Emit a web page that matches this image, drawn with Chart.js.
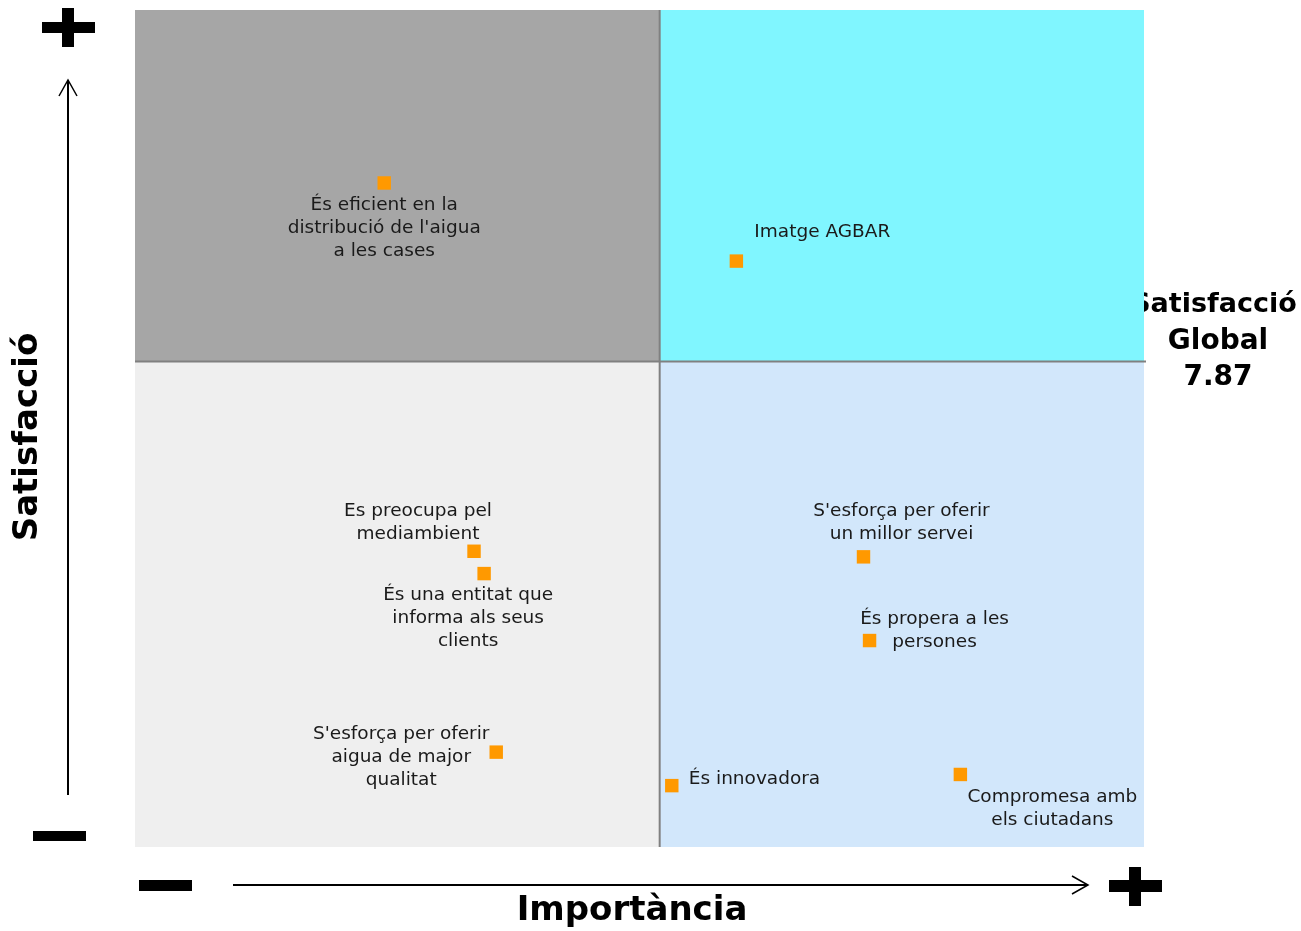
<!DOCTYPE html>
<html>
<head>
<meta charset="utf-8">
<script src="https://cdn.jsdelivr.net/npm/chart.js@4"></script>
<style>
html,body{margin:0;padding:0;background:#fff;overflow:hidden;}
canvas{display:block;}
</style>
</head>
<body>
<canvas id="c" width="1301" height="931"></canvas>
<script>
// ---- data ----
const labels = [
  ["És eficient en la", "distribució de l'aigua", "a les cases"],
  ["Imatge AGBAR"],
  ["Es preocupa pel", "mediambient"],
  ["És una entitat que", "informa als seus", "clients"],
  ["S'esforça per oferir", "aigua de major", "qualitat"],
  ["És innovadora"],
  ["Compromesa amb", "els ciutadans"],
  ["S'esforça per oferir", "un millor servei"],
  ["És propera a les", "persones"]
];
const importancia  = [2.47, 5.96, 3.36, 3.46, 3.58, 5.32, 8.18, 7.22, 7.28];
const satisfaccio  = [8.19, 8.05, 7.53, 7.49, 7.17, 7.11, 7.13, 7.52, 7.37];
const satisfaccioGlobal = 7.87;
const importanciaMitjana = 5.2;
const xRange = [0, 10];
const yRange = [7.0, 8.5];

// label placement (pixel offsets of text block centre from the point, alignment)
const labelPlacement = [
  {dx: 0,   dy: 45,  align: 'center'},
  {dx: 18,  dy: -29, align: 'left'},
  {dx: -56, dy: -29, align: 'center'},
  {dx: -16, dy: 45,  align: 'center'},
  {dx: -95, dy: 5,   align: 'center'},
  {dx: 17,  dy: -6,  align: 'left'},
  {dx: 92,  dy: 34,  align: 'center'},
  {dx: 38,  dy: -34, align: 'center'},
  {dx: 65,  dy: -10, align: 'center'}
];

const FONT = '"DejaVu Sans", sans-serif';

const points = importancia.map((v, i) => ({x: v, y: satisfaccio[i]}));

function line(ctx, x1, y1, x2, y2, w, col) {
  ctx.beginPath(); ctx.lineWidth = w; ctx.strokeStyle = col;
  ctx.moveTo(x1, y1); ctx.lineTo(x2, y2); ctx.stroke();
}

const quadPlugin = {
  id: 'quadrants',
  beforeDraw(chart) {
    const {ctx, chartArea: a, scales: {x, y}} = chart;
    ctx.save();
    // Satisfacció Global text (partly under the plot area)
    ctx.fillStyle = '#000';
    ctx.font = 'bold 27px ' + FONT;
    ctx.textAlign = 'center'; ctx.textBaseline = 'middle';
    const gy = y.getPixelForValue(satisfaccioGlobal);
    ctx.fillText('Satisfacció', 1214, gy - 57);
    ctx.font = 'bold 28px ' + FONT;
    ctx.fillText('Global', 1218, gy - 20);
    ctx.fillText(satisfaccioGlobal.toFixed(2), 1218, gy + 16);

    const mx = x.getPixelForValue(importanciaMitjana);
    const my = gy;
    ctx.fillStyle = '#a6a6a6'; ctx.fillRect(a.left, a.top, mx - a.left, my - a.top);
    ctx.fillStyle = '#80f6ff'; ctx.fillRect(mx, a.top, a.right - mx, my - a.top);
    ctx.fillStyle = '#efefef'; ctx.fillRect(a.left, my, mx - a.left, a.bottom - my);
    ctx.fillStyle = '#d2e7fb'; ctx.fillRect(mx, my, a.right - mx, a.bottom - my);
    line(ctx, mx, a.top, mx, a.bottom, 2, '#808080');
    line(ctx, a.left, my, a.right + 2, my, 2, '#808080');

    // axis decorations
    ctx.fillStyle = '#000';
    ctx.fillRect(42, 22, 53, 11); ctx.fillRect(62, 8, 12, 39);
    ctx.fillRect(33, 831, 53, 10);
    ctx.fillRect(139, 880, 53, 11);
    ctx.fillRect(1109, 880, 53, 12); ctx.fillRect(1129, 867, 12, 39);
    line(ctx, 68, 795, 68, 80, 2, '#000');
    ctx.beginPath(); ctx.lineWidth = 1.5;
    ctx.moveTo(59, 96); ctx.lineTo(68, 80); ctx.lineTo(77, 96); ctx.stroke();
    line(ctx, 233, 885, 1088, 885, 2, '#000');
    ctx.beginPath(); ctx.lineWidth = 1.5;
    ctx.moveTo(1072, 876); ctx.lineTo(1088, 885); ctx.lineTo(1072, 894); ctx.stroke();

    // axis titles
    ctx.font = 'bold 34px ' + FONT;
    ctx.textAlign = 'center'; ctx.textBaseline = 'middle';
    ctx.fillText('Importància', 632, 911);
    ctx.save();
    ctx.translate(28, 437); ctx.rotate(-Math.PI / 2);
    ctx.fillText('Satisfacció', 0, 0);
    ctx.restore();
    ctx.restore();
  },
  afterDatasetsDraw(chart) {
    const {ctx} = chart;
    const meta = chart.getDatasetMeta(0);
    ctx.save();
    ctx.fillStyle = '#1a1a1a';
    ctx.font = '18.5px ' + FONT;
    ctx.textBaseline = 'middle';
    meta.data.forEach((el, i) => {
      const p = labelPlacement[i];
      const lines = labels[i];
      const lh = 23;
      const cy = el.y + p.dy;
      ctx.textAlign = p.align;
      lines.forEach((t, k) => {
        const ty = cy + (k - (lines.length - 1) / 2) * lh;
        ctx.fillText(t, el.x + p.dx, ty);
      });
    });
    ctx.restore();
  }
};

new Chart(document.getElementById('c'), {
  type: 'scatter',
  data: {
    datasets: [{
      data: points,
      pointStyle: 'rect',
      pointRadius: 9.5,
      pointHoverRadius: 9.5,
      backgroundColor: '#ff9900',
      borderWidth: 0
    }]
  },
  options: {
    responsive: false,
    animation: false,
    events: [],
    layout: {padding: {left: 135, right: 157, top: 10, bottom: 84}},
    plugins: {legend: {display: false}, tooltip: {enabled: false}},
    scales: {
      x: {type: 'linear', min: xRange[0], max: xRange[1], display: false},
      y: {type: 'linear', min: yRange[0], max: yRange[1], display: false}
    }
  },
  plugins: [quadPlugin]
});
</script>
</body>
</html>
